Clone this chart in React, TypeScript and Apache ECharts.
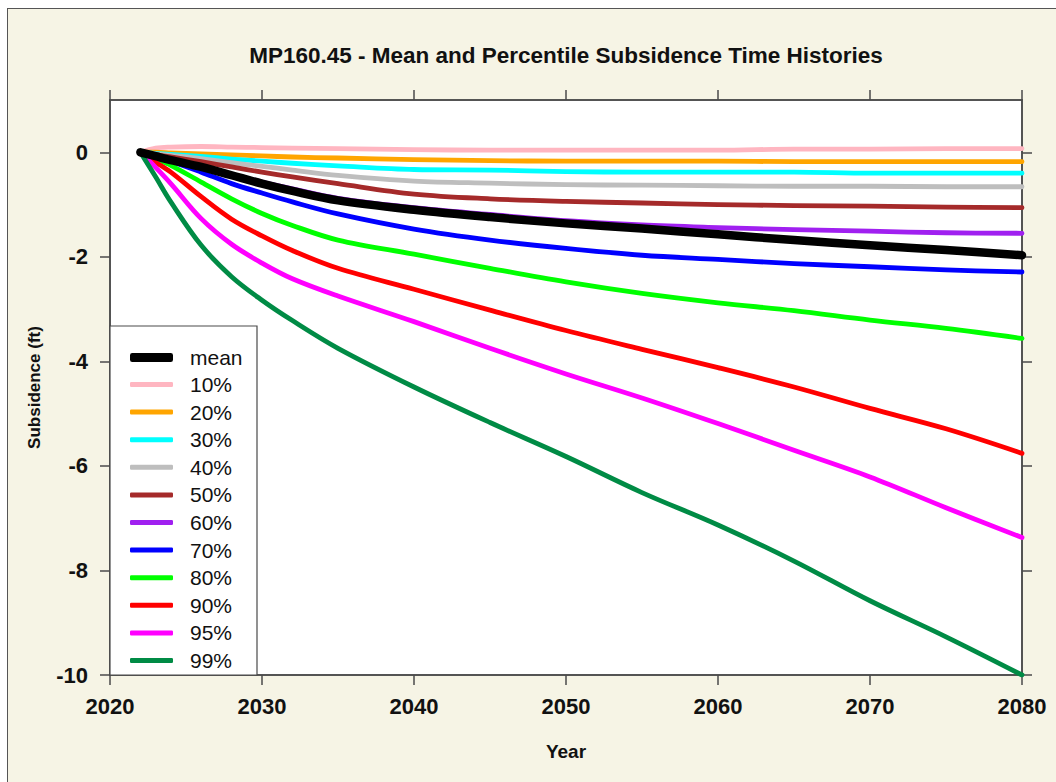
import React, { useEffect, useRef } from "react";
import * as echarts from "echarts";

// Sample years for every curve (all curves start at 0 in 2022)
const years = [2022, 2023, 2024, 2026, 2028, 2030, 2032, 2035, 2040, 2045, 2050, 2055, 2060, 2065, 2070, 2075, 2080];

// Subsidence (ft) per percentile
const p10 = [0, 0.08, 0.10, 0.11, 0.10, 0.09, 0.08, 0.07, 0.05, 0.04, 0.04, 0.04, 0.04, 0.06, 0.06, 0.07, 0.07];
const p20 = [0, 0.0, -0.01, -0.03, -0.05, -0.07, -0.09, -0.11, -0.14, -0.16, -0.17, -0.17, -0.17, -0.18, -0.18, -0.18, -0.18];
const p30 = [0, -0.02, -0.04, -0.08, -0.13, -0.17, -0.21, -0.26, -0.33, -0.34, -0.37, -0.38, -0.38, -0.38, -0.40, -0.40, -0.40];
const p40 = [0, -0.03, -0.06, -0.12, -0.20, -0.27, -0.34, -0.44, -0.55, -0.59, -0.62, -0.63, -0.64, -0.65, -0.65, -0.66, -0.66];
const p50 = [0, -0.045, -0.09, -0.18, -0.28, -0.38, -0.47, -0.60, -0.80, -0.89, -0.94, -0.97, -1.00, -1.02, -1.03, -1.05, -1.06];
const p60 = [0, -0.07, -0.14, -0.27, -0.42, -0.57, -0.70, -0.88, -1.06, -1.19, -1.31, -1.39, -1.44, -1.48, -1.51, -1.54, -1.55];
const p70 = [0, -0.085, -0.17, -0.38, -0.60, -0.78, -0.95, -1.18, -1.47, -1.68, -1.84, -1.97, -2.05, -2.13, -2.19, -2.25, -2.29];
const p80 = [0, -0.12, -0.25, -0.57, -0.89, -1.17, -1.40, -1.68, -1.95, -2.22, -2.48, -2.70, -2.88, -3.03, -3.21, -3.37, -3.56];
const p90 = [0, -0.19, -0.38, -0.85, -1.28, -1.60, -1.88, -2.22, -2.62, -3.02, -3.41, -3.77, -4.12, -4.49, -4.90, -5.29, -5.76];
const p95 = [0, -0.29, -0.60, -1.27, -1.76, -2.12, -2.42, -2.75, -3.24, -3.75, -4.24, -4.70, -5.19, -5.70, -6.21, -6.80, -7.37];
const p99 = [0, -0.47, -0.95, -1.78, -2.38, -2.83, -3.22, -3.75, -4.49, -5.17, -5.82, -6.51, -7.13, -7.82, -8.58, -9.27, -10.0];
const meanValues = [0, -0.075, -0.15, -0.28, -0.44, -0.60, -0.74, -0.92, -1.10, -1.24, -1.36, -1.46, -1.57, -1.68, -1.78, -1.87, -1.97];

const percentileNames = ["10%", "20%", "30%", "40%", "50%", "60%", "70%", "80%", "90%", "95%", "99%"];
const percentileValues = [p10, p20, p30, p40, p50, p60, p70, p80, p90, p95, p99];
const percentileColors = [
  "#FFB6C1", "#FFA500", "#00FFFF", "#BEBEBE", "#A52A2A", "#A020F0",
  "#0000FF", "#00FF00", "#FF0000", "#FF00FF", "#008B45",
];
const meanName = "mean";
const meanColor = "#000000";

const xTicks = [2020, 2030, 2040, 2050, 2060, 2070, 2080];
const yTicks = [-10, -8, -6, -4, -2, 0];

const titleText = "MP160.45 - Mean and Percentile Subsidence Time Histories";

const FONT = "'Liberation Sans', Arial, Helvetica, sans-serif";
const AXIS = "#4a4a4a";
const TEXT = "#111111";

export default function App() {
  const ref = useRef<HTMLDivElement>(null);

  useEffect(() => {
    document.body.style.margin = "0";
    const chart = echarts.init(ref.current!, null, { renderer: "svg" });

    const axisLine = { show: true, onZero: false, lineStyle: { color: AXIS, width: 1.5 } };
    const axisTick = { show: true, inside: false, length: 10, lineStyle: { color: AXIS, width: 1.5 } };
    const labelStyle = { fontFamily: FONT, fontWeight: "bold" as const, fontSize: 22, color: TEXT };

    const toPairs = (vals: number[]) => years.map((y, i) => [y, vals[i]]);

    const series: any[] = percentileNames.map((name, i) => ({
      name,
      type: "line",
      data: toPairs(percentileValues[i]),
      showSymbol: false,
      symbol: "none",
      smooth: 0.35,
      lineStyle: { color: percentileColors[i], width: 4.8, cap: "round", join: "round" },
      itemStyle: { color: percentileColors[i] },
      z: 2,
    }));
    series.push({
      name: meanName,
      type: "line",
      data: toPairs(meanValues),
      showSymbol: false,
      symbol: "none",
      smooth: 0.35,
      lineStyle: { color: meanColor, width: 8.5, cap: "round", join: "round" },
      itemStyle: { color: meanColor },
      z: 3,
    });

    const legendText = { fontFamily: FONT, fontSize: 21, color: TEXT, lineHeight: 20, padding: [0, 0, 0, 12] };

    chart.setOption({
      animation: false,
      backgroundColor: "transparent",
      grid: {
        left: 110,
        top: 100,
        width: 912,
        height: 575,
        show: true,
        backgroundColor: "#ffffff",
        borderColor: AXIS,
        borderWidth: 1.5,
      },
      xAxis: [
        {
          type: "value",
          position: "bottom",
          min: 2020,
          max: 2080,
          interval: 10,
          axisLine,
          axisTick: { ...axisTick, customValues: xTicks },
          axisLabel: { ...labelStyle, margin: 20, customValues: xTicks, formatter: (v: number) => String(v) },
          splitLine: { show: false },
          name: "Year",
          nameLocation: "middle",
          nameGap: 67,
          nameTextStyle: { fontFamily: FONT, fontWeight: "bold", fontSize: 19, color: TEXT },
        },
        {
          type: "value",
          position: "top",
          min: 2020,
          max: 2080,
          interval: 10,
          axisLine,
          axisTick: { ...axisTick, customValues: xTicks },
          axisLabel: { show: false },
          splitLine: { show: false },
        },
      ],
      yAxis: [
        {
          type: "value",
          position: "left",
          min: -10,
          max: 1,
          interval: 2,
          axisLine,
          axisTick: { ...axisTick, customValues: yTicks },
          axisLabel: { ...labelStyle, margin: 22, customValues: yTicks },
          splitLine: { show: false },
          name: "Subsidence (ft)",
          nameLocation: "middle",
          nameRotate: 90,
          nameGap: 67,
          nameTextStyle: { fontFamily: FONT, fontWeight: "bold", fontSize: 17, color: TEXT },
        },
        {
          type: "value",
          position: "right",
          min: -10,
          max: 1,
          interval: 2,
          axisLine,
          axisTick: { ...axisTick, customValues: yTicks },
          axisLabel: { show: false },
          splitLine: { show: false },
        },
      ],
      legend: [
        {
          data: [meanName],
          orient: "vertical",
          left: 130,
          top: 347,
          padding: 0,
          itemWidth: 43,
          itemHeight: 9,
          icon: "roundRect",
          selectedMode: false,
          textStyle: legendText,
          z: 5,
        },
        {
          data: percentileNames,
          orient: "vertical",
          left: 130,
          top: 374,
          padding: 0,
          itemGap: 6.6,
          itemWidth: 43,
          itemHeight: 5,
          icon: "roundRect",
          selectedMode: false,
          textStyle: legendText,
          z: 5,
        },
      ],
      graphic: [
        {
          type: "text",
          x: 566,
          y: 55,
          z: 5,
          style: {
            text: titleText,
            fontFamily: FONT,
            fontWeight: "bold",
            fontSize: 22.5,
            fill: TEXT,
            textAlign: "center",
            textVerticalAlign: "middle",
          },
        },
        {
          type: "rect",
          z: 4,
          shape: { x: 110, y: 326, width: 147, height: 349 },
          style: { fill: "#ffffff", stroke: AXIS, lineWidth: 1.2 },
        },
      ],
      series,
    });

    return () => chart.dispose();
  }, []);

  return (
    <div style={{ position: "relative", width: 1056, height: 782, background: "#ffffff", overflow: "hidden" }}>
      <div
        style={{
          position: "absolute",
          left: 7,
          top: 8,
          width: 1100,
          height: 800,
          background: "#f6f4e5",
          borderLeft: "1.5px solid #555",
          borderTop: "1.5px solid #555",
        }}
      />
      <div ref={ref} style={{ position: "absolute", left: 0, top: 0, width: 1056, height: 782 }} />
    </div>
  );
}
